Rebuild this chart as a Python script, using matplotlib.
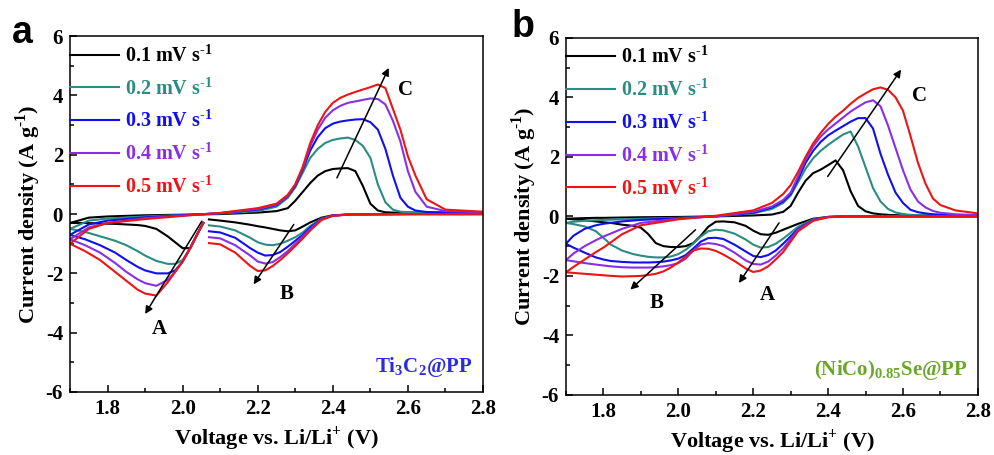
import numpy as np
import matplotlib
matplotlib.use('Agg')
import matplotlib.pyplot as plt
from matplotlib.ticker import MultipleLocator
from matplotlib.font_manager import FontProperties

plt.rcParams['font.family'] = ['Liberation Serif', 'DejaVu Serif']
plt.rcParams['font.weight'] = 'bold'
plt.rcParams['mathtext.fontset'] = 'custom'
plt.rcParams['mathtext.rm'] = 'Liberation Serif:bold'
plt.rcParams['mathtext.bf'] = 'Liberation Serif:bold'
plt.rcParams['axes.unicode_minus'] = False

# scan rates / styling
rates = ['0.1', '0.2', '0.3', '0.4', '0.5']
colors = ['#000000', '#2a8c82', '#1010ee', '#8a2ee6', '#ee1414']

# ---------------- panel a : Ti3C2@PP ----------------
# cathodic scan (2.8 -> 1.7 V), nan = gap in the recorded curve
va_cat = [2.80, 2.60, 2.45, 2.40, 2.37, 2.34, 2.32, 2.30, 2.28, 2.26, 2.24, 2.22, 2.20, 2.18, 2.14, 2.10, 2.07,
          np.nan, 2.055, 2.04, 2.02, 2.00, 1.98, 1.96, 1.93, 1.90, 1.88, 1.85, 1.82, 1.78, 1.74, 1.70]
ia_cat_01 = [0, 0, -0.01, -0.04, -0.12, -0.28, -0.42, -0.55, -0.58, -0.55, -0.50, -0.45, -0.41, -0.36, -0.28, -0.22, -0.18,
             np.nan, -0.30, -0.65, -1.15, -1.15, -0.95, -0.75, -0.50, -0.40, -0.37, -0.35, -0.33, -0.32, -0.30, -0.30]
ia_cat_02 = [0, 0, -0.01, -0.05, -0.15, -0.40, -0.62, -0.78, -0.90, -1.00, -1.05, -1.03, -0.95, -0.80, -0.55, -0.42, -0.38,
             np.nan, -0.30, -0.65, -1.15, -1.55, -1.68, -1.68, -1.58, -1.40, -1.25, -1.05, -0.90, -0.75, -0.60, -0.50]
ia_cat_03 = [0, 0, -0.01, -0.05, -0.17, -0.45, -0.70, -0.90, -1.10, -1.28, -1.38, -1.40, -1.30, -1.15, -0.80, -0.62, -0.58,
             np.nan, -0.30, -0.65, -1.15, -1.60, -1.90, -2.00, -2.00, -1.90, -1.78, -1.55, -1.30, -1.05, -0.85, -0.70]
ia_cat_04 = [0, 0, -0.01, -0.05, -0.18, -0.50, -0.75, -1.00, -1.25, -1.45, -1.62, -1.67, -1.60, -1.40, -1.05, -0.82, -0.78,
             np.nan, -0.30, -0.65, -1.15, -1.60, -1.95, -2.22, -2.42, -2.33, -2.20, -1.95, -1.65, -1.30, -1.05, -0.85]
ia_cat_05 = [0, 0, -0.01, -0.06, -0.20, -0.55, -0.82, -1.08, -1.32, -1.55, -1.75, -1.90, -1.92, -1.75, -1.30, -1.02, -0.98,
             np.nan, -0.30, -0.65, -1.15, -1.60, -1.95, -2.30, -2.75, -2.68, -2.55, -2.25, -1.95, -1.55, -1.25, -1.00]

# anodic scan (1.7 -> 2.8 V)
va_an = [1.70, 1.75, 1.80, 1.90, 2.00, 2.10, 2.20, 2.25, 2.28, 2.30, 2.32, 2.34, 2.36, 2.38, 2.40,
         2.42, 2.44, 2.46, 2.48, 2.50, 2.52, 2.54, 2.56, 2.58, 2.60, 2.62, 2.65, 2.70, 2.80]
ia_an_01 = [-0.30, -0.12, -0.08, -0.04, -0.02, 0.00, 0.05, 0.10, 0.20, 0.45, 0.75, 1.05, 1.30, 1.45, 1.52,
            1.54, 1.55, 1.45, 0.95, 0.35, 0.12, 0.06, 0.05, 0.05, 0.05, 0.05, 0.05, 0.05, 0.05]
ia_an_02 = [-0.50, -0.22, -0.15, -0.08, -0.03, 0.02, 0.10, 0.25, 0.55, 0.90, 1.40, 1.90, 2.20, 2.40, 2.50,
            2.55, 2.58, 2.50, 2.30, 1.90, 1.00, 0.40, 0.15, 0.08, 0.06, 0.05, 0.05, 0.05, 0.05]
ia_an_03 = [-0.70, -0.35, -0.22, -0.11, -0.04, 0.03, 0.15, 0.30, 0.60, 0.95, 1.50, 2.15, 2.60, 2.90, 3.05,
            3.12, 3.16, 3.19, 3.20, 3.10, 2.85, 2.20, 1.30, 0.55, 0.25, 0.12, 0.07, 0.05, 0.05]
ia_an_04 = [-0.85, -0.45, -0.30, -0.14, -0.05, 0.03, 0.17, 0.32, 0.62, 1.00, 1.55, 2.30, 2.85, 3.25, 3.50,
            3.65, 3.75, 3.80, 3.85, 3.90, 3.88, 3.70, 3.15, 2.45, 1.45, 0.75, 0.25, 0.10, 0.06]
ia_an_05 = [-1.00, -0.50, -0.30, -0.17, -0.06, 0.04, 0.20, 0.35, 0.65, 1.00, 1.60, 2.40, 3.00, 3.45, 3.75,
            3.92, 4.03, 4.12, 4.20, 4.28, 4.37, 4.25, 3.55, 2.85, 1.95, 1.30, 0.50, 0.15, 0.08]

# ---------------- panel b : (NiCo)0.85Se@PP ----------------
vb_cat = [2.80, 2.60, 2.45, 2.40, 2.36, 2.32, 2.28, 2.26, 2.24, 2.22, 2.20, 2.18, 2.15, 2.12, 2.10, 2.08, 2.06,
          2.04, 2.02, 2.00, 1.98, 1.96, 1.94, 1.92, 1.90, 1.88, 1.85, 1.82, 1.80, 1.78, 1.75, 1.72, 1.70]
ib_cat_01 = [0, 0, 0, -0.02, -0.08, -0.25, -0.45, -0.55, -0.62, -0.60, -0.48, -0.32, -0.20, -0.17, -0.18, -0.35, -0.65,
             -0.90, -1.00, -1.03, -1.03, -1.00, -0.90, -0.60, -0.38, -0.32, -0.28, -0.22, -0.20, -0.17, -0.13, -0.10, -0.08]
ib_cat_02 = [0, 0, 0, -0.02, -0.10, -0.35, -0.75, -0.92, -1.03, -1.05, -0.95, -0.78, -0.58, -0.47, -0.45, -0.50, -0.68,
             -0.92, -1.12, -1.27, -1.35, -1.38, -1.38, -1.36, -1.32, -1.27, -1.15, -0.95, -0.72, -0.50, -0.34, -0.26, -0.22]
ib_cat_03 = [0, 0, 0, -0.02, -0.12, -0.42, -0.92, -1.15, -1.30, -1.37, -1.33, -1.18, -0.95, -0.76, -0.72, -0.73, -0.85,
             -1.08, -1.30, -1.42, -1.48, -1.52, -1.54, -1.55, -1.55, -1.55, -1.53, -1.50, -1.45, -1.38, -1.22, -1.05, -0.92]
ib_cat_04 = [0, 0, 0, -0.02, -0.13, -0.45, -1.08, -1.32, -1.52, -1.62, -1.60, -1.48, -1.22, -1.00, -0.93, -0.90, -0.95,
             -1.15, -1.42, -1.57, -1.64, -1.68, -1.71, -1.72, -1.72, -1.72, -1.71, -1.68, -1.65, -1.62, -1.57, -1.51, -1.47]
ib_cat_05 = [0, 0, 0, -0.03, -0.15, -0.50, -1.20, -1.45, -1.68, -1.82, -1.87, -1.75, -1.50, -1.28, -1.16, -1.09, -1.08,
             -1.15, -1.35, -1.55, -1.72, -1.85, -1.93, -1.97, -2.00, -2.01, -2.02, -2.00, -1.98, -1.96, -1.93, -1.90, -1.88]

vb_an = [1.70, 1.72, 1.75, 1.78, 1.80, 1.85, 1.90, 2.00, 2.10, 2.20, 2.25, 2.28, 2.30, 2.32, 2.34, 2.36, 2.38, 2.40,
         2.42, 2.44, 2.46, 2.48, 2.50, 2.52, 2.54, 2.56, 2.58, 2.60, 2.62, 2.64, 2.66, 2.68, 2.70, 2.74, 2.80]
ib_an_01 = [-0.08, -0.07, -0.06, -0.05, -0.05, -0.04, -0.03, -0.02, 0.00, 0.03, 0.06, 0.15, 0.35, 0.80, 1.20, 1.45, 1.57, 1.72,
            1.88, 1.55, 0.85, 0.35, 0.17, 0.10, 0.07, 0.05, 0.04, 0.03, 0.03, 0.03, 0.03, 0.02, 0.02, 0.02, 0.02]
ib_an_02 = [-0.22, -0.18, -0.15, -0.13, -0.12, -0.10, -0.08, -0.05, 0.00, 0.10, 0.25, 0.45, 0.70, 1.15, 1.60, 1.95, 2.20, 2.40,
            2.58, 2.75, 2.85, 2.35, 1.65, 0.95, 0.50, 0.25, 0.13, 0.08, 0.05, 0.04, 0.04, 0.03, 0.03, 0.03, 0.02]
ib_an_03 = [-0.92, -0.65, -0.42, -0.30, -0.25, -0.17, -0.12, -0.06, 0.00, 0.12, 0.30, 0.50, 0.75, 1.25, 1.80, 2.20, 2.50, 2.72,
            2.88, 3.03, 3.18, 3.30, 3.30, 2.95, 2.10, 1.40, 0.80, 0.45, 0.22, 0.14, 0.10, 0.07, 0.06, 0.04, 0.03]
ib_an_04 = [-1.47, -1.25, -1.00, -0.80, -0.68, -0.42, -0.22, -0.08, 0.00, 0.15, 0.33, 0.55, 0.80, 1.35, 1.92, 2.35, 2.68, 2.92,
            3.12, 3.32, 3.52, 3.68, 3.83, 3.90, 3.70, 3.05, 2.30, 1.55, 0.90, 0.50, 0.30, 0.18, 0.12, 0.07, 0.04]
ib_an_05 = [-1.88, -1.70, -1.45, -1.20, -1.05, -0.60, -0.30, -0.10, 0.02, 0.20, 0.45, 0.75, 1.05, 1.50, 2.00, 2.45, 2.80, 3.10,
            3.35, 3.55, 3.78, 3.98, 4.13, 4.27, 4.33, 4.25, 4.00, 3.55, 2.70, 1.80, 1.10, 0.60, 0.38, 0.20, 0.10]

# peak-shift arrows: (label, tail, head, label position)
arrows_a = [('A', (2.051, -0.24), (1.90, -3.37), (1.938, -3.88)),
            ('B', (2.296, -0.35), (2.189, -2.37), (2.276, -2.70)),
            ('C', (2.411, 1.22), (2.549, 4.93), (2.593, 4.17))]
arrows_b = [('B', (2.046, -0.45), (1.872, -2.46), (1.943, -2.91)),
            ('A', (2.269, -0.22), (2.162, -2.24), (2.238, -2.63)),
            ('C', (2.399, 1.34), (2.595, 4.93), (2.645, 4.03))]

leg_font = FontProperties(family='Liberation Serif', weight='bold', size=14.5)


def draw_panel(ax, v_cat, cat, v_an, an, arrows, sample, sample_color):
    handles = []
    for k in range(5):
        h, = ax.plot(v_cat, cat[k], color=colors[k], lw=1.5,
                     label=rates[k] + ' mV s$^{\\mathbf{\\text{-}1}}$')
        ax.plot(v_an, an[k], color=colors[k], lw=1.5)
        handles.append(h)
    ax.set_xlim(1.7, 2.8)
    ax.set_ylim(-6, 6)
    ax.xaxis.set_major_locator(MultipleLocator(0.2))
    ax.xaxis.set_minor_locator(MultipleLocator(0.1))
    ax.yaxis.set_major_locator(MultipleLocator(2))
    ax.yaxis.set_minor_locator(MultipleLocator(1))
    ax.xaxis.set_major_formatter(plt.FuncFormatter(lambda x, p: '%.1f' % x))
    ax.tick_params(which='both', direction='in', top=False, right=False, labelsize=15, pad=5)
    ax.tick_params(which='major', length=5, width=1.1)
    ax.tick_params(which='minor', length=3, width=1.1)
    for lab in ax.get_xticklabels() + ax.get_yticklabels():
        lab.set_fontweight('bold')
    for s in ax.spines.values():
        s.set_linewidth(1.1)
    ax.set_xlabel('Voltage vs. Li/Li$^{\\mathbf{+}}$ (V)', fontsize=16, fontweight='bold', labelpad=4)
    ax.set_ylabel('Current density (A g$^{\\mathbf{\\text{-}1}}$)', fontsize=16, fontweight='bold', labelpad=2)
    for lab, tail, head, lpos in arrows:
        ax.annotate('', xy=head, xytext=tail,
                    arrowprops=dict(arrowstyle='-|>', color='k', lw=1.1, mutation_scale=11,
                                    shrinkA=0, shrinkB=0))
        ax.text(lpos[0], lpos[1], lab, fontsize=15, fontweight='bold', ha='center', va='center')
    ax.text(0.975, 0.07, sample, transform=ax.transAxes, fontsize=15, fontweight='bold',
            color=sample_color, ha='right', va='center')
    ax.legend(handles=handles, loc='upper left', bbox_to_anchor=(0.0, 0.976), frameon=False,
              prop=leg_font, labelcolor='linecolor', borderaxespad=0, borderpad=0,
              handlelength=2.45, handletextpad=0.3, labelspacing=0.54)


fig = plt.figure(figsize=(9.95, 4.55), dpi=100)
ax1 = fig.add_axes([0.0704, 0.1385, 0.415, 0.782])
ax2 = fig.add_axes([0.5688, 0.132, 0.414, 0.785])

draw_panel(ax1, va_cat, [ia_cat_01, ia_cat_02, ia_cat_03, ia_cat_04, ia_cat_05],
           va_an, [ia_an_01, ia_an_02, ia_an_03, ia_an_04, ia_an_05],
           arrows_a, 'Ti$_{\\mathbf{3}}$C$_{\\mathbf{2}}$@PP', '#2b2bdf')
draw_panel(ax2, vb_cat, [ib_cat_01, ib_cat_02, ib_cat_03, ib_cat_04, ib_cat_05],
           vb_an, [ib_an_01, ib_an_02, ib_an_03, ib_an_04, ib_an_05],
           arrows_b, '(NiCo)$_{\\mathbf{0.85}}$Se@PP', '#6aa62a')

fig.text(0.012, 0.905, 'a', fontsize=27, fontweight='bold', family='Liberation Sans')
fig.text(0.514, 0.918, 'b', fontsize=27, fontweight='bold', family='Liberation Sans')

fig.savefig('out.png', dpi=100)
